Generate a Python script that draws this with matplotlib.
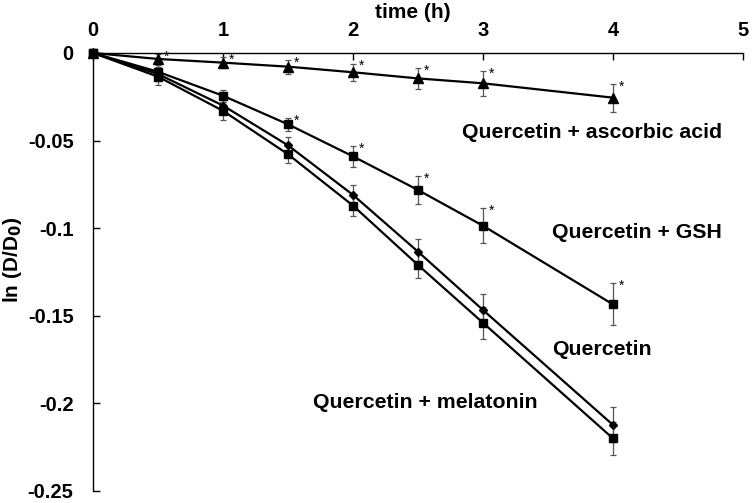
import matplotlib
matplotlib.use("Agg")
import matplotlib.pyplot as plt

plt.rcParams['font.family'] = ['Liberation Sans', 'DejaVu Sans']
plt.rcParams['axes.unicode_minus'] = False

time_h = [0, 0.5, 1, 1.5, 2, 2.5, 3, 4]

ascorbic = [0, -0.0034, -0.0055, -0.0078, -0.011, -0.0145, -0.0173, -0.0255]
ascorbic_err = [0, 0.003, 0.003, 0.004, 0.005, 0.006, 0.007, 0.008]

gsh = [0, -0.0107, -0.0244, -0.0407, -0.059, -0.0782, -0.0986, -0.1435]
gsh_err = [0, 0.004, 0.0035, 0.0038, 0.006, 0.008, 0.010, 0.012]

quercetin = [0, -0.012, -0.030, -0.0527, -0.081, -0.1134, -0.1467, -0.2123]
quercetin_err = [0, 0.004, 0.005, 0.005, 0.0057, 0.0075, 0.009, 0.010]

melatonin = [0, -0.0135, -0.033, -0.0578, -0.0871, -0.121, -0.154, -0.220]
melatonin_err = [0, 0.0046, 0.005, 0.005, 0.0057, 0.0075, 0.009, 0.0095]

x_ticks = [0, 1, 2, 3, 4, 5]
y_ticks = [0, -0.05, -0.1, -0.15, -0.2, -0.25]
y_tick_labels = ['0', '-0.05', '-0.1', '-0.15', '-0.2', '-0.25']

ascorbic_star_from = 1   # index of first starred point
gsh_star_from = 3

fig = plt.figure(figsize=(7.55, 5.03), dpi=100)
ax = fig.add_axes([93/755, 1 - 491/503, 650/755, 438/503])

series = [
    (ascorbic, ascorbic_err, '^', 6.5),
    (gsh, gsh_err, 's', 5.5),
    (quercetin, quercetin_err, 'D', 4),
    (melatonin, melatonin_err, 's', 5.5),
]
for ys, es, mk, ms in series:
    ax.errorbar(time_h, ys, yerr=es, fmt='none', ecolor='#555555', elinewidth=0.9,
                capsize=2.2, capthick=0.9, clip_on=False, zorder=2)
    ax.plot(time_h, ys, color='black', lw=1.6, marker=mk, ms=ms, mfc='black',
            mec='black', clip_on=False, zorder=3)

for ys, es, start in [(ascorbic, ascorbic_err, ascorbic_star_from),
                      (gsh, gsh_err, gsh_star_from)]:
    for t, y, e in zip(time_h[start:], ys[start:], es[start:]):
        ax.annotate('*', (t, y + e), xytext=(4, -7), textcoords='offset points',
                    fontsize=10, ha='left', va='bottom', color='black')

ax.set_xlim(0, 5)
ax.set_ylim(-0.25, 0)
ax.xaxis.tick_top()
ax.set_xticks(x_ticks)
ax.set_xticklabels([str(v) for v in x_ticks], fontsize=14.5, fontweight='bold')
ax.set_yticks(y_ticks)
ax.set_yticklabels(y_tick_labels, fontsize=14.5, fontweight='bold')
ax.tick_params(axis='both', direction='in', length=5, width=1)
ax.tick_params(axis='y', pad=14)
ax.tick_params(axis='x', pad=9.5)

for s in ['right', 'bottom']:
    ax.spines[s].set_visible(False)
for s in ['left', 'top']:
    ax.spines[s].set_linewidth(1.0)

fig.text(413/755, 1 - 13/503, 'time (h)', ha='center', va='center',
         fontsize=15, fontweight='bold')
fig.text(13/755, 1 - 260/503, 'ln (D/D$_\\mathbf{0}$)', rotation=90,
         ha='center', va='center', fontsize=15, fontweight='bold')

lab_kw = dict(fontsize=15.3, fontweight='bold', color='black')
ax.text(4.84, -0.0455, 'Quercetin + ascorbic acid', ha='right', va='center', **lab_kw)
ax.text(4.84, -0.1025, 'Quercetin + GSH', ha='right', va='center', **lab_kw)
ax.text(3.53, -0.1690, 'Quercetin', ha='left', va='center', **lab_kw)
ax.text(1.69, -0.1995, 'Quercetin + melatonin', ha='left', va='center', **lab_kw)

fig.savefig('out.png', dpi=100)
